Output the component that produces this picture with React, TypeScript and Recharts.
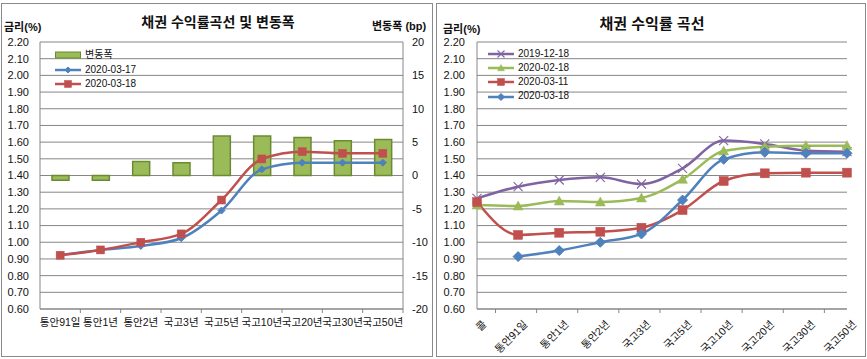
import React from 'react';
import { ComposedChart, LineChart, Line, Bar, XAxis, YAxis, CartesianGrid, Legend } from 'recharts';

const FONT = "'Liberation Sans', 'Noto Sans CJK KR', sans-serif";
const AXIS = '#868686';
const BLUE = '#4F81BD';
const RED = '#C0504D';
const GREEN = '#9BBB59';
const OLIVE = '#6B8A34';
const PURPLE = '#8064A2';

// ---- left chart data ----
const leftCategories = ['통안91일', '통안1년', '통안2년', '국고3년', '국고5년', '국고10년', '국고20년', '국고30년', '국고50년'];
const changeBp = [-0.7, -0.7, 2.1, 1.9, 5.9, 5.9, 5.7, 5.2, 5.4];
const yield20200317 = [0.924, 0.954, 0.978, 1.024, 1.19, 1.437, 1.477, 1.477, 1.477];
const yield20200318L = [0.922, 0.954, 1.0, 1.05, 1.253, 1.499, 1.543, 1.533, 1.533];
const rateTicks = [0.6, 0.7, 0.8, 0.9, 1.0, 1.1, 1.2, 1.3, 1.4, 1.5, 1.6, 1.7, 1.8, 1.9, 2.0, 2.1, 2.2];
const bpTicks = [-20, -15, -10, -5, 0, 5, 10, 15, 20];

// ---- right chart data ----
const rightCategories = ['콜', '통안91일', '통안1년', '통안2년', '국고3년', '국고5년', '국고10년', '국고20년', '국고30년', '국고50년'];
const yield20191218 = [1.263, 1.333, 1.373, 1.389, 1.349, 1.443, 1.609, 1.589, 1.549, 1.543];
const yield20200218 = [1.223, 1.217, 1.247, 1.241, 1.265, 1.377, 1.547, 1.573, 1.579, 1.579];
const yield20200311 = [1.241, 1.044, 1.057, 1.063, 1.087, 1.193, 1.367, 1.413, 1.417, 1.417];
const yield20200318R = [null, 0.914, 0.95, 1.0, 1.05, 1.253, 1.497, 1.539, 1.533, 1.533];

const leftData = leftCategories.map((c, i) => ({
  cat: c,
  chg: changeBp[i],
  a: yield20200317[i],
  b: yield20200318L[i],
}));

const rightData = rightCategories.map((c, i) => ({
  cat: c,
  s1: yield20191218[i],
  s2: yield20200218[i],
  s3: yield20200311[i],
  s4: yield20200318R[i],
}));

type Kind = 'diamond' | 'square' | 'triangle' | 'x';

function markerShape(kind: Kind, cx: number, cy: number, color: string, s: number) {
  switch (kind) {
    case 'diamond':
      return <path d={`M${cx},${cy - s} L${cx + s},${cy} L${cx},${cy + s} L${cx - s},${cy} Z`} fill={color} stroke={color} strokeWidth={1} />;
    case 'square':
      return <rect x={cx - s} y={cy - s} width={2 * s} height={2 * s} fill={color} stroke={color} strokeWidth={0.5} />;
    case 'triangle':
      return <path d={`M${cx},${cy - s} L${cx + s},${cy + s * 0.8} L${cx - s},${cy + s * 0.8} Z`} fill={color} stroke={color} strokeWidth={0.5} />;
    case 'x':
      return (
        <g stroke={color} strokeWidth={1.1}>
          <line x1={cx - s} y1={cy - s} x2={cx + s} y2={cy + s} />
          <line x1={cx - s} y1={cy + s} x2={cx + s} y2={cy - s} />
        </g>
      );
  }
}

const makeDot = (kind: Kind, color: string, s: number) => (p: any) => {
  const key = p.key ?? `d-${p.index}`;
  if (p.cx == null || p.cy == null || p.value == null || (Array.isArray(p.value) && p.value[1] == null)) {
    return <g key={key} />;
  }
  return <g key={key}>{markerShape(kind, p.cx, p.cy, color, s)}</g>;
};

const LeftXTick = (props: any) => {
  const { x, y, payload } = props;
  const off = payload.offset || 363 / 9 / 2;
  return (
    <g>
      <line x1={x + off} x2={x + off} y1={y} y2={y + 4} stroke={AXIS} />
      <text x={x} y={y + 17} textAnchor="middle" fontSize={10.5} fill="#111" fontFamily={FONT}>
        {payload.value}
      </text>
    </g>
  );
};

const RightXTick = (props: any) => {
  const { x, y, payload } = props;
  const off = payload.offset || 370 / 10 / 2;
  const tx = x + 10;
  const ty = y + 16;
  return (
    <g>
      <line x1={x + off} x2={x + off} y1={y} y2={y + 4} stroke={AXIS} />
      <text x={tx} y={ty} textAnchor="end" fontSize={10.5} fill="#111" fontFamily={FONT}
        transform={`rotate(-45 ${tx} ${ty})`}>
        {payload.value}
      </text>
    </g>
  );
};

type LegendItem = { name: string; color: string; kind: Kind | 'bar'; s: number };

const LegendBox = ({ items, rowH }: { items: LegendItem[]; rowH: number }) => (
  <div style={{ fontFamily: FONT, fontSize: 10, color: '#111' }}>
    {items.map((it) => (
      <div key={it.name} style={{ display: 'flex', alignItems: 'center', height: rowH }}>
        <svg width={26} height={10} style={{ marginRight: 4, overflow: 'visible' }}>
          {it.kind === 'bar' ? (
            <rect x={0.5} y={2} width={25} height={6} fill={GREEN} stroke={OLIVE} strokeWidth={1} />
          ) : (
            <g>
              <line x1={0} x2={26} y1={5} y2={5} stroke={it.color} strokeWidth={2.5} />
              {markerShape(it.kind, 13, 5, it.color, it.s)}
            </g>
          )}
        </svg>
        <span style={{ lineHeight: `${rowH}px` }}>{it.name}</span>
      </div>
    ))}
  </div>
);

const leftLegend: LegendItem[] = [
  { name: '변동폭', color: GREEN, kind: 'bar', s: 0 },
  { name: '2020-03-17', color: BLUE, kind: 'diamond', s: 3 },
  { name: '2020-03-18', color: RED, kind: 'square', s: 3.5 },
];

const rightLegend: LegendItem[] = [
  { name: '2019-12-18', color: PURPLE, kind: 'x', s: 3.5 },
  { name: '2020-02-18', color: GREEN, kind: 'triangle', s: 3.5 },
  { name: '2020-03-11', color: RED, kind: 'square', s: 3.5 },
  { name: '2020-03-18', color: BLUE, kind: 'diamond', s: 3.5 },
];

const tickStyle = { fontSize: 11, fill: '#111', fontFamily: FONT };

const abs = (l: number, t: number, extra: React.CSSProperties = {}): React.CSSProperties => ({
  position: 'absolute', left: l, top: t, ...extra,
});

export default function App() {
  return (
    <div style={{ position: 'absolute', left: 0, top: 0, width: 867, height: 359, background: '#fff', fontFamily: FONT, overflow: 'hidden' }}>
      {/* chart frames */}
      <div style={abs(1, 3, { width: 432, height: 354, border: '1px solid #8a8a8a', boxSizing: 'border-box' })} />
      <div style={abs(436, 3, { width: 430, height: 354, border: '1px solid #8a8a8a', boxSizing: 'border-box' })} />

      {/* left chart */}
      <div style={abs(1, 3)}>
        <ComposedChart width={432} height={354} data={leftData} margin={{ top: 39, right: 0, left: 0, bottom: 0 }}>
          <CartesianGrid yAxisId="left" vertical={false} stroke={AXIS} strokeWidth={1} />
          <XAxis dataKey="cat" height={48} tickLine={false} tickSize={0} tickMargin={0} interval={0}
            axisLine={{ stroke: AXIS }} tick={<LeftXTick />} />
          <YAxis yAxisId="left" width={39} domain={[0.6, 2.2]} ticks={rateTicks} interval={0}
            tickFormatter={(v: number) => v.toFixed(2)} tickLine={false} tickSize={0} tickMargin={11}
            axisLine={{ stroke: AXIS }} tick={tickStyle} />
          <YAxis yAxisId="right" orientation="right" width={30} domain={[-20, 20]} ticks={bpTicks} interval={0}
            tickLine={false} tickSize={0} tickMargin={9} axisLine={{ stroke: AXIS }} tick={{ ...tickStyle, textAnchor: 'start' }} />
          <Legend layout="vertical" align="center" verticalAlign="middle"
            wrapperStyle={{ left: 54, top: 45, width: 120 }}
            content={() => <LegendBox items={leftLegend} rowH={14.5} />} />
          <Bar yAxisId="right" dataKey="chg" name="변동폭" barSize={17} fill={GREEN} stroke={OLIVE} strokeWidth={1.5} isAnimationActive={false} />
          <Line yAxisId="left" type="monotone" dataKey="a" name="2020-03-17" stroke={BLUE} strokeWidth={2.5}
            dot={makeDot('diamond', BLUE, 3.5)} activeDot={false} isAnimationActive={false} />
          <Line yAxisId="left" type="monotone" dataKey="b" name="2020-03-18" stroke={RED} strokeWidth={2.5}
            dot={makeDot('square', RED, 4)} activeDot={false} isAnimationActive={false} />
        </ComposedChart>
      </div>

      {/* right chart */}
      <div style={abs(436, 3)}>
        <LineChart width={430} height={354} data={rightData} margin={{ top: 39, right: 19, left: 0, bottom: 0 }}>
          <CartesianGrid vertical={false} stroke={AXIS} strokeWidth={1} />
          <XAxis dataKey="cat" height={48} tickLine={false} tickSize={0} tickMargin={0} interval={0}
            axisLine={{ stroke: AXIS }} tick={<RightXTick />} />
          <YAxis width={41} domain={[0.6, 2.2]} ticks={rateTicks} interval={0}
            tickFormatter={(v: number) => v.toFixed(2)} tickLine={false} tickSize={0} tickMargin={12}
            axisLine={{ stroke: AXIS }} tick={tickStyle} />
          <Legend layout="vertical" align="center" verticalAlign="middle"
            wrapperStyle={{ left: 52, top: 43.5, width: 120 }}
            content={() => <LegendBox items={rightLegend} rowH={14.3} />} />
          <Line type="monotone" dataKey="s1" name="2019-12-18" stroke={PURPLE} strokeWidth={2.5}
            dot={makeDot('x', PURPLE, 4.5)} activeDot={false} isAnimationActive={false} />
          <Line type="monotone" dataKey="s2" name="2020-02-18" stroke={GREEN} strokeWidth={2.5}
            dot={makeDot('triangle', GREEN, 5)} activeDot={false} isAnimationActive={false} />
          <Line type="monotone" dataKey="s3" name="2020-03-11" stroke={RED} strokeWidth={2.5}
            dot={makeDot('square', RED, 4.5)} activeDot={false} isAnimationActive={false} />
          <Line type="monotone" dataKey="s4" name="2020-03-18" stroke={BLUE} strokeWidth={2.5}
            dot={makeDot('diamond', BLUE, 5)} activeDot={false} isAnimationActive={false} />
        </LineChart>
      </div>

      {/* titles */}
      <div style={abs(68, 14, { width: 300, textAlign: 'center', fontSize: 14, lineHeight: '16px', fontWeight: 'bold', color: '#111' })}>
        채권 수익률곡선 및 변동폭
      </div>
      <div style={abs(4, 20, { fontSize: 11, lineHeight: '14px', fontWeight: 'bold', color: '#111' })}>금리(%)</div>
      <div style={abs(372, 19, { fontSize: 11, lineHeight: '14px', fontWeight: 'bold', color: '#111', whiteSpace: 'nowrap' })}>변동폭 (bp)</div>

      <div style={abs(502, 15, { width: 300, textAlign: 'center', fontSize: 15, lineHeight: '18px', fontWeight: 'bold', color: '#111' })}>
        채권 수익률 곡선
      </div>
      <div style={abs(443, 22, { fontSize: 11, lineHeight: '14px', fontWeight: 'bold', color: '#111' })}>금리(%)</div>
    </div>
  );
}
